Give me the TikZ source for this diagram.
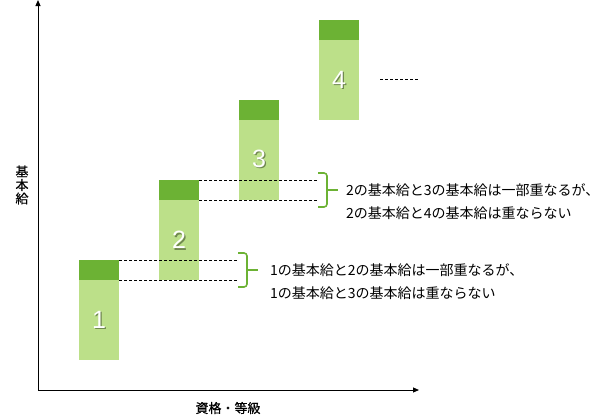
\documentclass[tikz,border=0pt]{standalone}
\usepackage{fontspec}
\setmainfont{Liberation Sans}
\newfontfamily\jpfont{Noto Sans CJK JP}
\newfontfamily\jpaxisfont[FakeBold=0.6]{Noto Sans CJK JP}
\usetikzlibrary{arrows.meta}
\definecolor{bardark}{RGB}{108,178,52}
\definecolor{barlight}{RGB}{188,224,137}
\definecolor{numshadow}{RGB}{112,136,80}
\tikzset{
  axisline/.style={line width=1pt, -{Triangle[length=6pt,width=5pt]}},
  gradenum/.style={font=\fontsize{25}{25}\selectfont, text=white},
  numshade/.style={font=\fontsize{25}{25}\selectfont, text=numshadow},
  overlap/.style={dash pattern=on 3pt off 2pt, line width=0.8pt},
  bracket/.style={draw=bardark, line width=1.6pt, rounded corners=3pt},
  note/.style={font=\jpfont\fontsize{14}{23}\selectfont, anchor=west, align=left, inner sep=0pt},
  axislabel/.style={font=\jpaxisfont\fontsize{13}{13.5}\selectfont, align=center},
}
\begin{document}
\begin{tikzpicture}[x=1pt,y=-1pt]
      \useasboundingbox (0,0) rectangle (600,415);
      % grades
      \fill[barlight] (79,280) rectangle (119,360);
      \fill[bardark] (79,260) rectangle (119,280);
      \fill[barlight] (159,200) rectangle (199,280);
      \fill[bardark] (159,180) rectangle (199,200);
      \fill[barlight] (239,120) rectangle (279,200);
      \fill[bardark] (239,100) rectangle (279,120);
      \fill[barlight] (319,40) rectangle (359,120);
      \fill[bardark] (319,20) rectangle (359,40);
      \foreach \n/\x/\y in {1/99/320, 2/179/240, 3/259/159, 4/339/80}{
        \node[numshade] at (\x+1.3,\y+1.3) {\n};
        \node[gradenum] (g\n) at (\x,\y) {\n};
      }
      % axes
      \coordinate (o) at (38,390);
      \coordinate (ytip) at (38,0);
      \coordinate (xtip) at (419,390);
      \draw[axisline] (o) -- (ytip);
      \draw[axisline] (o) -- (xtip);
      \node[axislabel] (ylab) at (22,185) {基\\本\\給};
      \node[axislabel] (xlab) at (228,408) {資格・等級};
      % overlap 1-2
      \coordinate (a1) at (119,260);
      \coordinate (a2) at (119,280);
      \draw[overlap] (a1) -- (238,260);
      \draw[overlap] (a2) -- (238,280);
      \draw[bracket] (238,253) -- (247,253) -- (247,287) -- (238,287);
      \draw[draw=bardark, line width=1.6pt] (247,270) -- (258,270);
      \node[note] (t1) at (270,282) {1の基本給と2の基本給は一部重なるが、\\1の基本給と3の基本給は重ならない};
      % overlap 2-3
      \coordinate (b1) at (199,180);
      \coordinate (b2) at (199,200);
      \draw[overlap] (b1) -- (318,180);
      \draw[overlap] (b2) -- (318,200);
      \draw[bracket] (318,173) -- (327,173) -- (327,207) -- (318,207);
      \draw[draw=bardark, line width=1.6pt] (327,190) -- (338,190);
      \node[note] (t2) at (346,202) {2の基本給と3の基本給は一部重なるが、\\2の基本給と4の基本給は重ならない};
      % continues
      \draw[overlap] (380,79) -- (418,79);
    \end{tikzpicture}
\end{document}
